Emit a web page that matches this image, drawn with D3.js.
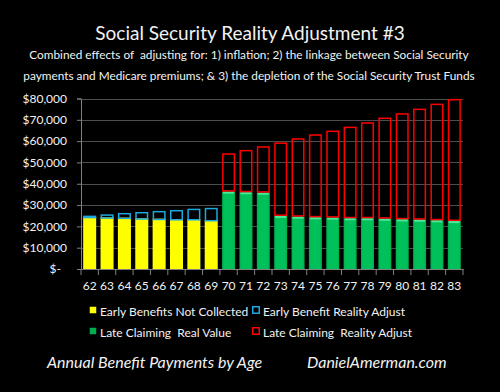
<!DOCTYPE html>
<html>
<head>
<meta charset="utf-8">
<script src="https://cdn.jsdelivr.net/npm/d3@7"></script>
<style>
  body { margin: 0; background: #000; }
  svg text { font-family: Lato, "Open Sans", sans-serif; fill: #f2f2f2; white-space: pre; }
</style>
</head>
<body>
<div id="chart"></div>
<script>
// ages on the x axis
var ages = ['62','63','64','65','66','67','68','69','70','71','72','73','74','75','76','77','78','79','80','81','82','83'];
// early claiming: real value (yellow) and top of reality adjust box (blue)
var earlyReal = [24500, 24250, 24100, 23800, 23600, 23450, 23450, 23000];
var earlyNominal = [25050, 25650, 26300, 26750, 27250, 27700, 28300, 28700];
// late claiming: real value (green) and top of reality adjust box (red)
var lateReal = [36300, 36000, 35800, 24900, 24550, 24250, 24100, 23800, 23800, 23600, 23300, 23150, 22850, 22500];
var lateNominal = [54300, 55900, 57600, 59400, 61350, 63200, 64950, 66800, 68850, 71050, 73100, 75250, 77600, 79800];
var yTicks = [0, 10000, 20000, 30000, 40000, 50000, 60000, 70000, 80000];

var W = 500, H = 392;
var svg = d3.select('#chart').append('svg')
    .attr('width', W)
    .attr('height', H);

svg.append('rect').attr('width', W).attr('height', H).attr('fill', '#000');

var defs = svg.append('defs');
var grad = defs.append('linearGradient').attr('id', 'greenGrad')
    .attr('x1', '0').attr('x2', '1').attr('y1', '0').attr('y2', '0');
grad.append('stop').attr('offset', '0').attr('stop-color', '#00a84a');
grad.append('stop').attr('offset', '0.15').attr('stop-color', '#00c05a');
grad.append('stop').attr('offset', '0.85').attr('stop-color', '#00c05a');
grad.append('stop').attr('offset', '1').attr('stop-color', '#00a84a');

// titles
svg.append('text').attr('x', 250).attr('y', 40)
    .attr('text-anchor', 'middle').style('font-size', '19px')
    .text('Social Security Reality Adjustment #3');
svg.append('text').attr('x', 249).attr('y', 59)
    .attr('text-anchor', 'middle').style('font-size', '11.8px')
    .text('Combined effects of  adjusting for: 1) inflation; 2) the linkage between Social Security');
svg.append('text').attr('x', 249).attr('y', 80)
    .attr('text-anchor', 'middle').style('font-size', '11.8px')
    .text('payments and Medicare premiums; & 3) the depletion of the Social Security Trust Funds');

var x = d3.scaleBand().domain(ages).range([81, 463]).paddingInner(0.25).paddingOuter(0.125);
var y = d3.scaleLinear().domain([0, 80000]).range([269, 98.5]);

// grid
svg.append('g').selectAll('line')
    .data(yTicks.slice(1))
  .enter().append('line')
    .attr('x1', 81).attr('x2', 463)
    .attr('y1', function(d) { return Math.round(y(d)) + 0.5; })
    .attr('y2', function(d) { return Math.round(y(d)) + 0.5; })
    .attr('stroke', '#4d4d4d').attr('stroke-width', 1.2);

// y axis
var yAxis = svg.append('g').attr('transform', 'translate(81,0)')
    .call(d3.axisLeft(y).tickValues(yTicks).tickSize(4)
      .tickFormat(function(d) { return d === 0 ? '$-' : '$' + d3.format(',')(d); }));
yAxis.select('.domain').attr('stroke', '#808080');
yAxis.selectAll('.tick line').attr('stroke', '#808080');
yAxis.selectAll('text').attr('x', -14).style('font-size', '12px').attr('fill', '#f2f2f2');
yAxis.selectAll('.tick').filter(function(d) { return d === 0; }).select('text').attr('x', -20);

// x axis
var xAxis = svg.append('g').attr('transform', 'translate(0,269)')
    .call(d3.axisBottom(x).tickSize(0));
xAxis.select('.domain').attr('stroke', '#808080').attr('stroke-width', 1.2);
xAxis.selectAll('text').attr('y', 12).style('font-size', '12px').attr('fill', '#f2f2f2');
svg.append('g').selectAll('line')
    .data(d3.range(ages.length + 1))
  .enter().append('line')
    .attr('x1', function(i) { return 81 + i * x.step(); })
    .attr('x2', function(i) { return 81 + i * x.step(); })
    .attr('y1', 269).attr('y2', 275)
    .attr('stroke', '#808080');

var early = ages.slice(0, 8), late = ages.slice(8);

// yellow bars
svg.append('g').selectAll('rect')
    .data(earlyReal)
  .enter().append('rect')
    .attr('x', function(d, i) { return x(early[i]); })
    .attr('width', x.bandwidth())
    .attr('y', function(d) { return y(d); })
    .attr('height', function(d) { return y(0) - y(d); })
    .attr('fill', '#ffff00');

// blue outlines
svg.append('g').selectAll('rect')
    .data(earlyNominal)
  .enter().append('rect')
    .attr('x', function(d, i) { return x(early[i]) + 0.75; })
    .attr('width', x.bandwidth() - 1.5)
    .attr('y', function(d) { return y(d) + 0.75; })
    .attr('height', function(d, i) { return y(earlyReal[i]) - y(d); })
    .attr('fill', 'none').attr('stroke', '#1ea8e0').attr('stroke-width', 1.5);

// green bars
svg.append('g').selectAll('rect')
    .data(lateReal)
  .enter().append('rect')
    .attr('x', function(d, i) { return x(late[i]); })
    .attr('width', x.bandwidth())
    .attr('y', function(d) { return y(d); })
    .attr('height', function(d) { return y(0) - y(d); })
    .attr('fill', 'url(#greenGrad)');
svg.append('g').selectAll('rect')
    .data(lateReal)
  .enter().append('rect')
    .attr('x', function(d, i) { return x(late[i]) + 1; })
    .attr('width', x.bandwidth() - 2)
    .attr('y', function(d) { return y(d); })
    .attr('height', 2)
    .attr('fill', '#4fe89a');

// red outlines
svg.append('g').selectAll('rect')
    .data(lateNominal)
  .enter().append('rect')
    .attr('x', function(d, i) { return x(late[i]) + 0.75; })
    .attr('width', x.bandwidth() - 1.5)
    .attr('y', function(d) { return y(d) + 0.75; })
    .attr('height', function(d, i) { return y(lateReal[i]) - y(d) - 1.5; })
    .attr('fill', 'none').attr('stroke', '#ff0000').attr('stroke-width', 1.5);

// legend
var legend = [
  {label: 'Early Benefits Not Collected', x: 89, y: 311, fill: '#ffff00', stroke: 'none'},
  {label: 'Early Benefit Reality Adjust', x: 252, y: 311, fill: 'none', stroke: '#1ea8e0'},
  {label: 'Late Claiming  Real Value', x: 89, y: 332, fill: '#00b050', stroke: 'none'},
  {label: 'Late Claiming  Reality Adjust', x: 252, y: 332, fill: 'none', stroke: '#ff0000'}
];
var lg = svg.append('g').selectAll('g').data(legend).enter().append('g');
lg.append('rect')
    .attr('x', function(d) { return d.x + 0.75; })
    .attr('y', function(d) { return d.y - 4.25; })
    .attr('width', 6.5).attr('height', 6.5)
    .attr('fill', function(d) { return d.fill; })
    .attr('stroke', function(d) { return d.stroke; })
    .attr('stroke-width', 1.5);
lg.append('text')
    .attr('x', function(d) { return d.x + 11; })
    .attr('y', function(d) { return d.y + 4.5; })
    .style('font-size', '12px')
    .text(function(d) { return d.label; });

// footer
svg.append('text').attr('x', 47).attr('y', 368)
    .style('font-size', '16px').style('font-style', 'italic')
    .text('Annual Benefit Payments by Age');
svg.append('text').attr('x', 307).attr('y', 368)
    .style('font-size', '16px').style('font-style', 'italic')
    .text('DanielAmerman.com');
</script>
</body>
</html>
